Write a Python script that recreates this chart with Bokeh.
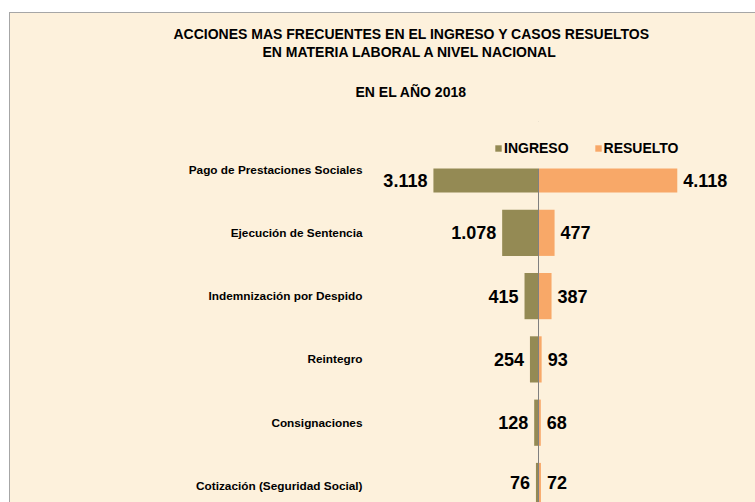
from bokeh.plotting import figure
from bokeh.models import (Range1d, FixedTicker, Legend, LegendItem, Title, Span,
                          BoxAnnotation, ColumnDataSource)
from bokeh.core.properties import value
from bokeh.embed import file_html
from bokeh.resources import INLINE

# ---- data ----
categories = ["Pago de Prestaciones Sociales", "Ejecución de Sentencia",
              "Indemnización por Despido", "Reintegro", "Consignaciones",
              "Cotización (Seguridad Social)"]
ingreso = [3118, 1078, 415, 254, 128, 76]
resuelto = [4118, 477, 387, 93, 68, 72]
series_names = ["INGRESO", "RESUELTO"]
title_lines = ["ACCIONES MAS FRECUENTES EN EL INGRESO Y CASOS RESUELTOS",
               "EN MATERIA LABORAL A NIVEL NACIONAL",
               "EN EL AÑO 2018"]

# ---- style / layout (page pixels) ----
CREAM = "#FDF1DC"
OLIVE = "#948A54"
ORANGE = "#F8A868"
FONT = "Liberation Sans"

OX, OY = 10, 13                 # canvas offset on the page
W, H = 745, 489
FRAME_L, FRAME_T, FRAME_R, FRAME_B = 372, 121, 755, 502
AREA_T = 168                    # top of the bar area (below the legend)
ZERO_PX = 538.0
PX_PER_UNIT = 0.0337
ROW_PX = 63.3
LAST_ROW_PX = 485.5
BAR_H = 0.73


def px_to_x(px):
    return (px - ZERO_PX) / PX_PER_UNIT


def py_to_y(py):
    return (LAST_ROW_PX - py) / ROW_PX


n = len(categories)
ypos = [n - 1 - i for i in range(n)]

xs, xe = px_to_x(FRAME_L), px_to_x(FRAME_R)
ys, ye = py_to_y(FRAME_B), py_to_y(FRAME_T)
area_top = py_to_y(AREA_T)


def fmt(v):
    return f"{v:,}".replace(",", ".")


def visible_center(y):
    lo = max(y - BAR_H / 2, ys)
    hi = min(y + BAR_H / 2, area_top)
    return (lo + hi) / 2


src = ColumnDataSource(dict(
    y=ypos,
    ing_left=[-v for v in ingreso],
    res=resuelto,
    zero=[0] * n,
    ylab=[visible_center(y) for y in ypos],
    ing_txt=[fmt(v) for v in ingreso],
    res_txt=[fmt(v) for v in resuelto],
))

p = figure(width=W, height=H, output_backend="svg", toolbar_location=None,
           x_axis_location=None, y_axis_location="left",
           x_range=Range1d(xs, xe), y_range=Range1d(ys, ye),
           min_border_left=FRAME_L - OX, min_border_right=0,
           min_border_top=FRAME_T - OY, min_border_bottom=0,
           background_fill_color=None, border_fill_color=CREAM,
           outline_line_color=None)
p.margin = (OY, 0, 0, OX)
p.styles = {"outline": "1px solid #A6A6A6", "background-color": CREAM}
p.xgrid.visible = False
p.ygrid.visible = False

r1 = p.hbar(y="y", left="ing_left", right="zero", height=BAR_H, source=src,
            fill_color=OLIVE, line_color=None)
r2 = p.hbar(y="y", left="zero", right="res", height=BAR_H, source=src,
            fill_color=ORANGE, line_color=None)

p.text(x="ing_left", y="ylab", text="ing_txt", source=src, x_offset=-6,
       text_align="right", text_baseline="middle", text_font_size="18px",
       text_font_style="bold", text_color="black", text_font=value(FONT))
p.text(x="res", y="ylab", text="res_txt", source=src, x_offset=6,
       text_align="left", text_baseline="middle", text_font_size="18px",
       text_font_style="bold", text_color="black", text_font=value(FONT))

p.add_layout(Span(location=0, dimension="height", line_color="#808080", line_width=1))
# the legend band above the bar area hides the top of the first bar
p.add_layout(BoxAnnotation(bottom=area_top, left=xs - 50, right=xe + 50,
                           top=ye + 1, fill_color=CREAM, fill_alpha=1,
                           line_color=None, line_alpha=0, line_width=0))

ax = p.yaxis[0]
ax.ticker = FixedTicker(ticks=ypos)
ax.major_label_overrides = {y: c for y, c in zip(ypos, categories)}
ax.axis_line_color = None
ax.major_tick_line_color = None
ax.minor_tick_line_color = None
ax.major_tick_in = 0
ax.major_tick_out = 0
ax.major_label_standoff = 10
ax.major_label_text_font = FONT
ax.major_label_text_font_style = "bold"
ax.major_label_text_font_size = "11.8px"
ax.major_label_text_color = "black"

LEG_LEFT_PX, LEG_TOP_PX, LEG_H = 494, 140, 16
legend = Legend(items=[LegendItem(label=series_names[0], renderers=[r1]),
                       LegendItem(label=series_names[1], renderers=[r2])],
                orientation="horizontal",
                location=(LEG_LEFT_PX - FRAME_L, FRAME_B - LEG_TOP_PX - LEG_H),
                glyph_width=8, glyph_height=8, label_standoff=2, spacing=25,
                padding=0, margin=0, label_height=LEG_H,
                label_text_font=FONT, label_text_font_style="bold",
                label_text_font_size="14px", label_text_color="black",
                border_line_color=None, background_fill_alpha=0)
p.add_layout(legend)

# titles, stacked upward from the frame: (offset from frame left, standoff)
title_style = [(-199, 0), (-110, 0), (-17, 44)]
for line, (off, so) in reversed(list(zip(title_lines, title_style))):
    p.add_layout(Title(text=line, align="left", offset=off, standoff=so,
                       text_font=FONT, text_font_style="bold",
                       text_font_size="14px", text_color="black"), "above")

open("out.html", "w").write(file_html(p, INLINE))
